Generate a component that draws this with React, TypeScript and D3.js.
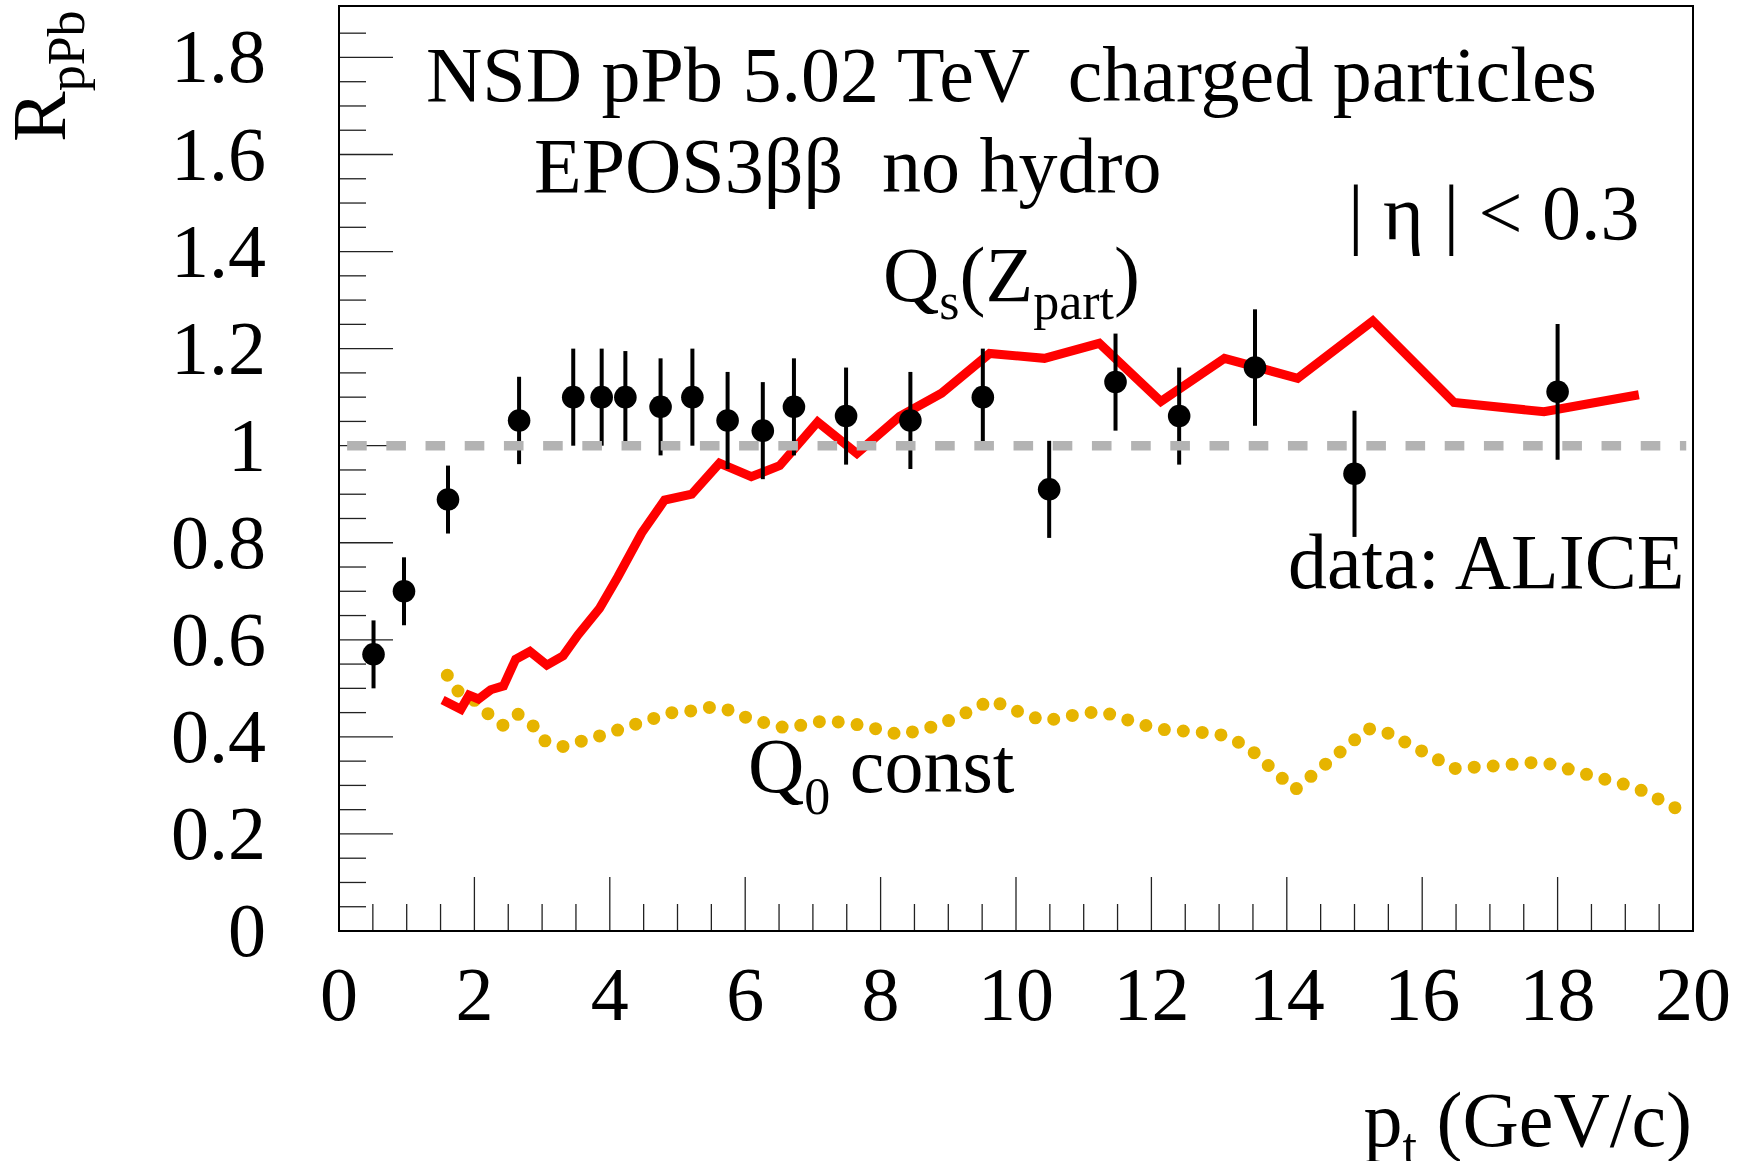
import React from 'react';
import * as d3 from 'd3';

// ---------- data ----------
const xTickValues = [0, 2, 4, 6, 8, 10, 12, 14, 16, 18, 20];
const xTickLabels = ['0', '2', '4', '6', '8', '10', '12', '14', '16', '18', '20'];
const yTickValues = [0, 0.2, 0.4, 0.6, 0.8, 1.0, 1.2, 1.4, 1.6, 1.8];
const yTickLabels = ['0', '0.2', '0.4', '0.6', '0.8', '1', '1.2', '1.4', '1.6', '1.8'];

// ALICE data points
const alicePt = [0.51, 0.96, 1.61, 2.66, 3.46, 3.88, 4.23, 4.75, 5.22, 5.74, 6.26, 6.72, 7.49, 8.44, 9.51, 10.49, 11.47, 12.41, 13.53, 15.0, 18.0];
const aliceR = [0.57, 0.70, 0.889, 1.052, 1.10, 1.10, 1.10, 1.08, 1.10, 1.052, 1.031, 1.08, 1.061, 1.052, 1.10, 0.91, 1.131, 1.061, 1.161, 0.942, 1.111];
const aliceErr = [0.07, 0.07, 0.07, 0.09, 0.10, 0.10, 0.095, 0.10, 0.10, 0.10, 0.10, 0.10, 0.10, 0.10, 0.10, 0.10, 0.10, 0.10, 0.12, 0.13, 0.14];

// EPOS Qs(Zpart) curve (red)
const qsPt = [1.53, 1.80, 1.92, 2.06, 2.24, 2.43, 2.61, 2.82, 3.07, 3.31, 3.53, 3.85, 4.12, 4.47, 4.81, 5.21, 5.62, 6.09, 6.51, 7.07, 7.65, 8.28, 8.90, 9.61, 10.42, 11.23, 12.14, 13.08, 14.16, 15.27, 16.47, 17.80, 19.20];
const qsR = [0.476, 0.457, 0.486, 0.478, 0.497, 0.505, 0.560, 0.576, 0.548, 0.567, 0.610, 0.665, 0.730, 0.820, 0.888, 0.900, 0.964, 0.936, 0.959, 1.049, 0.984, 1.060, 1.108, 1.190, 1.180, 1.211, 1.091, 1.180, 1.139, 1.257, 1.089, 1.070, 1.105];

// EPOS Q0 const curve (yellow dotted)
const q0Pt = [1.60, 1.76, 1.98, 2.19, 2.42, 2.64, 2.86, 3.04, 3.30, 3.85, 4.40, 4.94, 5.24, 5.52, 5.80, 6.06, 6.61, 7.16, 7.46, 7.75, 8.30, 8.85, 9.38, 9.63, 10.17, 10.44, 11.00, 11.27, 11.83, 12.10, 12.97, 13.22, 13.45, 14.12, 15.20, 15.45, 16.48, 17.05, 17.62, 17.90, 18.47, 19.02, 19.29, 19.54, 19.90];
const q0R = [0.527, 0.494, 0.478, 0.449, 0.424, 0.447, 0.424, 0.392, 0.380, 0.402, 0.427, 0.451, 0.454, 0.462, 0.454, 0.437, 0.418, 0.433, 0.430, 0.423, 0.404, 0.424, 0.457, 0.476, 0.444, 0.433, 0.449, 0.452, 0.427, 0.416, 0.407, 0.394, 0.376, 0.291, 0.417, 0.411, 0.335, 0.340, 0.347, 0.344, 0.321, 0.301, 0.287, 0.268, 0.242];

// reference line R = 1
const refLineX = [0.12, 19.9];
const refLineY = 1;

// ---------- layout ----------
const W = 1741;
const H = 1161;
const plotLeft = 339;
const plotRight = 1693;
const plotTop = 6;
const plotBottom = 931;
const FONT = '"Liberation Serif", "Times New Roman", Times, serif';
const FS = 76;
const FA = 78;
const FSUB = 52;

export default function App() {
  const x = d3.scaleLinear().domain([0, 20]).range([plotLeft, plotRight]);
  const y = d3.scaleLinear().domain([0, 1.906]).range([plotBottom, plotTop]);

  const line = d3
    .line<[number, number]>()
    .x((d) => x(d[0]))
    .y((d) => y(d[1]));

  const qsPath = line(qsPt.map((p, i) => [p, qsR[i]] as [number, number])) || '';
  const q0Path = line(q0Pt.map((p, i) => [p, q0R[i]] as [number, number])) || '';

  const xMinor = d3.range(0.5, 20, 0.5).filter((v) => Math.abs(v / 2 - Math.round(v / 2)) > 1e-6);
  const yMinor = d3.range(0.05, 1.9, 0.05).filter((v) => Math.abs(v / 0.2 - Math.round(v / 0.2)) > 1e-6);
  const tickColor = '#222';

  return (
    <div style={{ position: 'absolute', left: 0, top: 0 }}>
      <svg width={W} height={H} viewBox={`0 0 ${W} ${H}`} style={{ display: 'block', background: '#fff' }} fontFamily={FONT}>
        <rect x={0} y={0} width={W} height={H} fill="#fff" />

        {/* y ticks */}
        {yTickValues.filter((v) => v > 0).map((v) => (
          <line key={'ym' + v} x1={plotLeft} x2={plotLeft + 54} y1={y(v)} y2={y(v)} stroke={tickColor} strokeWidth={1.3} />
        ))}
        {yMinor.map((v) => (
          <line key={'yn' + v} x1={plotLeft} x2={plotLeft + 27} y1={y(v)} y2={y(v)} stroke={tickColor} strokeWidth={1.3} />
        ))}
        {/* x ticks */}
        {xTickValues.filter((v) => v > 0 && v < 20).map((v) => (
          <line key={'xm' + v} x1={x(v)} x2={x(v)} y1={plotBottom} y2={plotBottom - 54} stroke={tickColor} strokeWidth={1.3} />
        ))}
        {xMinor.map((v) => (
          <line key={'xn' + v} x1={x(v)} x2={x(v)} y1={plotBottom} y2={plotBottom - 27} stroke={tickColor} strokeWidth={1.3} />
        ))}

        {/* frame */}
        <rect x={plotLeft} y={plotTop} width={plotRight - plotLeft} height={plotBottom - plotTop} fill="none" stroke="#000" strokeWidth={2} />

        {/* y tick labels */}
        {yTickValues.map((v, i) => (
          <text key={'yl' + v} x={266} y={y(v) + 25} textAnchor="end" fontSize={FS} fill="#000">
            {yTickLabels[i]}
          </text>
        ))}
        {/* x tick labels */}
        {xTickValues.map((v, i) => (
          <text key={'xl' + v} x={x(v)} y={1020} textAnchor="middle" fontSize={FS} fill="#000">
            {xTickLabels[i]}
          </text>
        ))}

        {/* axis titles */}
        <text transform="translate(65,142) rotate(-90)" fontSize={FS} fill="#000">
          R<tspan fontSize={FSUB} dy={19}>pPb</tspan>
        </text>
        <text x={1692} y={1146} textAnchor="end" fontSize={FA} fill="#000" style={{ whiteSpace: 'pre' }}>
          p<tspan fontSize={FSUB} dy={18}>t</tspan>
          <tspan dy={-18}> (GeV/c)</tspan>
        </text>

        {/* Q0 const dotted curve */}
        <path d={q0Path} fill="none" stroke="#e6b400" strokeWidth={13} strokeLinecap="round" strokeDasharray="0 19" />

        {/* Qs(Zpart) red curve */}
        <path d={qsPath} fill="none" stroke="#ff0000" strokeWidth={9} strokeLinejoin="miter" />

        {/* data points */}
        {alicePt.map((p, i) => (
          <g key={'pt' + i}>
            <line x1={x(p)} x2={x(p)} y1={y(aliceR[i] - aliceErr[i])} y2={y(aliceR[i] + aliceErr[i])} stroke="#000" strokeWidth={4} />
            <circle cx={x(p)} cy={y(aliceR[i])} r={11.3} fill="#000" />
          </g>
        ))}

        {/* reference dashed line */}
        <line x1={x(refLineX[0])} x2={x(refLineX[1])} y1={y(refLineY)} y2={y(refLineY)} stroke="#b3b3b3" strokeWidth={9.5} strokeDasharray="19.6 19.6" />

        {/* annotations */}
        <text x={426} y={101} fontSize={FA} fill="#000" style={{ whiteSpace: 'pre' }}>
          {'NSD pPb 5.02 TeV  charged particles'}
        </text>
        <text x={534} y={192} fontSize={FA} fill="#000" style={{ whiteSpace: 'pre' }}>
          {'EPOS3\u03b2\u03b2  no hydro'}
        </text>
        <text x={883} y={301} fontSize={FA} fill="#000">
          Q<tspan fontSize={FSUB} dy={18}>s</tspan>
          <tspan dy={-18}>(Z</tspan>
          <tspan fontSize={FSUB} dy={18}>part</tspan>
          <tspan dy={-18}>)</tspan>
        </text>
        <text x={1348} y={239} fontSize={FA} fill="#000" style={{ whiteSpace: 'pre' }}>
          {'| \u03b7 | < 0.3'}
        </text>
        <text x={1288} y={588} fontSize={FA} fill="#000">
          data: ALICE
        </text>
        <text x={748} y={792} fontSize={FA} fill="#000" style={{ whiteSpace: 'pre' }}>
          Q<tspan fontSize={FSUB} dy={22}>0</tspan>
          <tspan dy={-22}> const</tspan>
        </text>
      </svg>
    </div>
  );
}
